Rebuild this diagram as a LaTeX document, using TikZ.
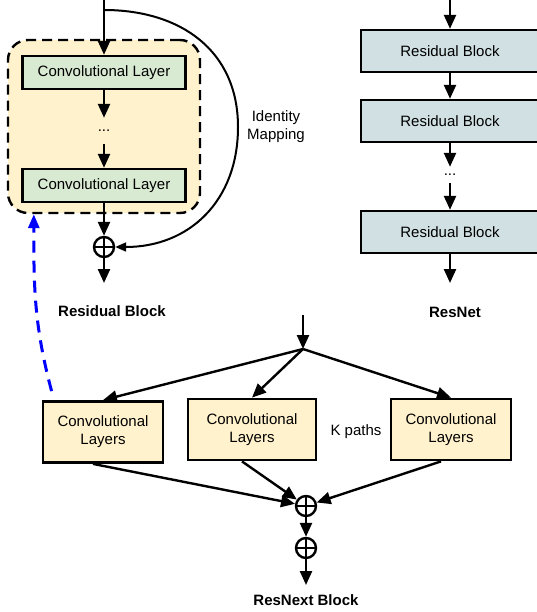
\documentclass[tikz,border=0pt]{standalone}
\usepackage{fontspec}
\setmainfont{Liberation Sans}
\usetikzlibrary{arrows.meta}
\definecolor{blockfill}{HTML}{FFF2CC}
\definecolor{convfill}{HTML}{D9EAD3}
\definecolor{resfill}{HTML}{D0E0E3}
\tikzset{
	flow/.style={line width=2.4pt, -{Triangle[length=14pt,width=12pt]}},
	layerbox/.style={draw, line width=2.4pt, fill=convfill, minimum width=163pt, minimum height=33pt, inner sep=0pt},
	resbox/.style={draw, line width=2.4pt, fill=resfill, minimum width=178pt, minimum height=42pt, inner sep=0pt},
	pathbox/.style={draw, line width=2.8pt, fill=blockfill, minimum height=61pt, align=center, inner sep=0pt},
	adder/.style={draw, circle, line width=2.4pt, minimum size=20pt, inner sep=0pt,
		path picture={\draw[line width=2pt] (path picture bounding box.north) -- (path picture bounding box.south)
			(path picture bounding box.west) -- (path picture bounding box.east);}},
	dotsbox/.style={inner sep=0pt, minimum height=#1},
	caption/.style={font=\fontsize{15}{18}\selectfont\bfseries},
}

\begin{document}
\begin{tikzpicture}[x=1pt, y=-1pt, font=\fontsize{15}{18}\selectfont]
		%%%%% START %%%%%
		\useasboundingbox (0,0) rectangle (537,612);
		
		% residual block
		\node[draw, dash pattern=on 10pt off 6pt, line width=2.4pt, rounded corners=20pt, fill=blockfill,
			minimum width=192pt, minimum height=173pt] (rbox) at (104,126.5) {};
		\node[layerbox] (rconv1) at (104,72.5) {Convolutional Layer};
		\node[dotsbox=26pt] (rdots) at (104,131) {...};
		\node[layerbox] (rconv2) at (104,185.5) {Convolutional Layer};
		\node[adder] (radd) at (104,247) {};
		\coordinate (rin) at (104,0);
		\coordinate (rsplit) at (104,10);
		\coordinate (idpt) at (238,127);
		\coordinate (rout) at (104,283);
		
		\draw[flow] (rin) -- (rconv1);
		\draw[flow] (rconv1) -- (rdots);
		\draw[flow] (rdots) -- (rconv2);
		\draw[flow] (rconv2) -- (radd);
		\draw[flow] (radd) -- (rout);
		\draw[line width=2pt, -{Triangle[length=11pt,width=9pt]}] (rsplit) to[out=0, in=90, looseness=1.1] (idpt) to[out=-90, in=0, looseness=1.1] (radd.east);
		
		\node[align=center] (idlabel) at (276,127) {Identity\\Mapping};
		\node[caption] (rlabel) at (112,311) {Residual Block};
		
		% resnet
		\node[resbox] (res1) at (450,51) {Residual Block};
		\node[resbox] (res2) at (450,121) {Residual Block};
		\node[dotsbox=16pt] (ndots) at (450,175) {...};
		\node[resbox] (res3) at (450,232) {Residual Block};
		\coordinate (nin) at (450,0);
		\coordinate (nout) at (450,283);
		
		\draw[flow] (nin) -- (res1);
		\draw[flow] (res1) -- (res2);
		\draw[flow] (res2) -- (ndots);
		\draw[flow] (ndots) -- (res3);
		\draw[flow] (res3) -- (nout);
		
		\node[caption] (nlabel) at (455,312) {ResNet};
		
		% resnext block
		\node[pathbox, minimum width=120pt] (xl) at (103,432) {Convolutional\\Layers};
		\node[pathbox, minimum width=128pt] (xm) at (252,429.5) {Convolutional\\Layers};
		\node[pathbox, minimum width=120pt] (xr) at (451,429.5) {Convolutional\\Layers};
		\node (kpaths) at (356,432) {K paths};
		\node[adder] (xadd1) at (306,506) {};
		\node[adder] (xadd2) at (306,548) {};
		\coordinate (xin) at (303,315);
		\coordinate (xsplit) at (303,349);
		\coordinate (xout) at (306,585);
		
		\draw[flow] (xin) -- (xsplit);
		\draw[flow] (xsplit) -- (xl.north);
		\draw[flow] (xsplit) -- (xm.north);
		\draw[flow] (xsplit) -- (xr.north);
		\draw[flow] ([xshift=-10pt]xl.south) -- (xadd1);
		\draw[flow] ([xshift=-10pt]xm.south) -- (xadd1);
		\draw[flow] ([xshift=-10pt]xr.south) -- (xadd1);
		\draw[flow] (xadd1) -- (xadd2);
		\draw[flow] (xadd2) -- (xout);
		
		\node[caption] (xlabel) at (306,600) {ResNext Block};
		
		% link back
		\draw[blue, line width=3pt, dash pattern=on 12pt off 8pt, -{Triangle[length=14pt,width=11pt]}]
			([shift={(10pt,9pt)}]xl.north west) to[out=105, in=-90] ([xshift=27pt]rbox.south west);
		
		%%%%% END %%%%%
\end{tikzpicture}
\end{document}
